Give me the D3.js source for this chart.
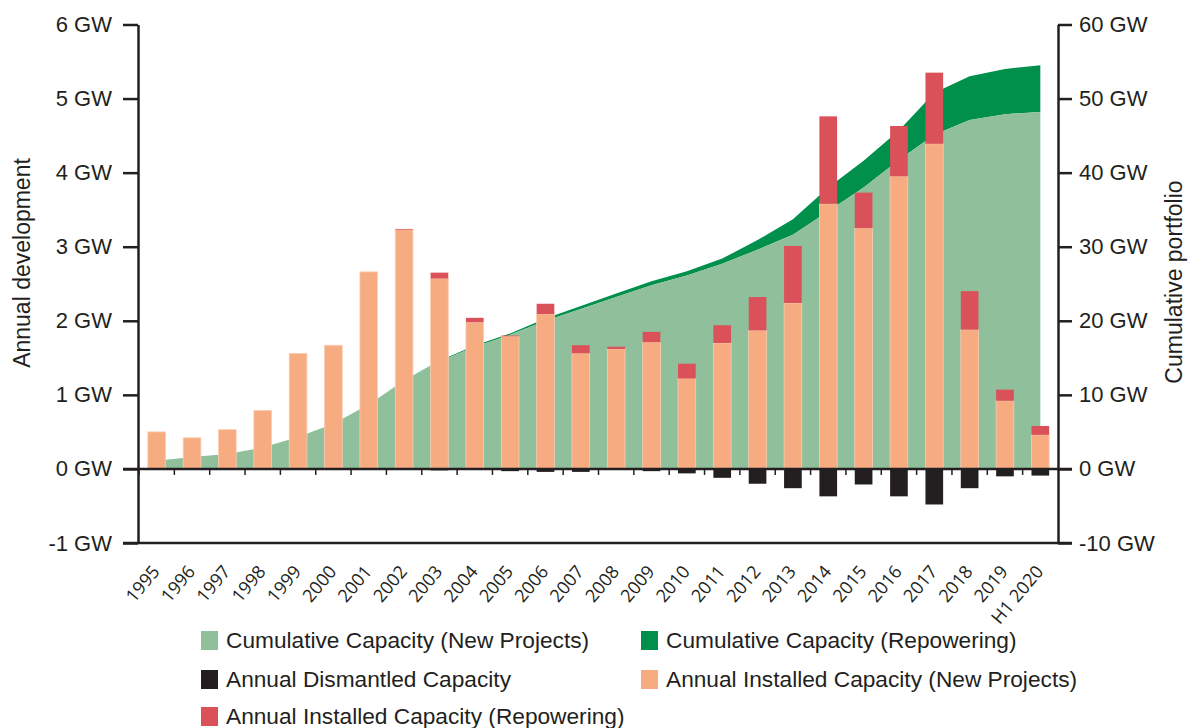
<!DOCTYPE html>
<html>
<head>
<meta charset="utf-8">
<script src="https://cdn.jsdelivr.net/npm/d3@7"></script>
<style>
  body { margin: 0; background: #fff; }
  svg { display: block; }
  .tick-label { font-family: "Liberation Sans", Arial, sans-serif; font-size: 22px; fill: #231f20; }
  .x-label { font-family: "Open Sans", sans-serif; font-size: 18px; fill: #231f20; }
  .title { font-family: "Liberation Sans", Arial, sans-serif; font-size: 23px; fill: #231f20; }
  .legend-text { font-family: "Liberation Sans", Arial, sans-serif; font-size: 22.7px; fill: #231f20; }
</style>
</head>
<body>
<svg id="chart" width="1189" height="728"></svg>
<script>
// years on the x axis
const years = ["1995","1996","1997","1998","1999","2000","2001","2002","2003","2004","2005","2006","2007",
  "2008","2009","2010","2011","2012","2013","2014","2015","2016","2017","2018","2019","H1 2020"]
// annual values, GW (left axis)
const newInstalled = [0.50,0.42,0.53,0.79,1.56,1.67,2.66,3.23,2.57,1.98,1.79,2.09,1.56,
  1.62,1.71,1.22,1.70,1.87,2.24,3.58,3.25,3.95,4.39,1.88,0.92,0.46]
const repowered = [0,0,0,0,0,0,0,0.01,0.08,0.06,0.01,0.14,0.11,
  0.03,0.14,0.20,0.24,0.45,0.77,1.18,0.48,0.68,0.96,0.52,0.15,0.12]
const dismantled = [0,0,0,0,0,0,0,0,-0.02,-0.01,-0.03,-0.04,-0.04,
  -0.01,-0.03,-0.06,-0.12,-0.20,-0.26,-0.37,-0.21,-0.37,-0.48,-0.26,-0.10,-0.09]
// cumulative values, GW (right axis)
const cumNew = [1.1,1.6,2.0,2.9,4.3,6.1,8.7,11.9,14.5,16.5,18.1,20.0,21.6,
  23.2,24.8,26.1,27.7,29.6,31.6,34.8,38.0,41.7,45.1,47.1,47.9,48.2]
const cumRepowering = [0,0,0,0,0,0,0,0.05,0.1,0.15,0.2,0.3,0.4,
  0.5,0.55,0.6,0.7,1.3,2.1,3.2,3.6,4.0,5.7,5.9,6.1,6.3]
// axis ticks
const leftTicks = [-1,0,1,2,3,4,5,6]
const rightTicks = [-10,0,10,20,30,40,50,60]

const colors = {
  cumNew: "#8fbf9b",
  cumRep: "#00904c",
  dismantled: "#231f20",
  newInst: "#f7ab80",
  repow: "#db5159"
}
const ink = "#231f20"

const svg = d3.select("#chart")
const plot = {left: 139, right: 1058, top: 24.5, bottom: 543}

const x = d3.scaleBand()
  .domain(years)
  .range([plot.left, plot.right])
  .paddingInner(0.5)
  .paddingOuter(0.25)
const yL = d3.scaleLinear().domain([-1, 6]).range([plot.bottom, plot.top])
const yR = d3.scaleLinear().domain([-10, 60]).range([plot.bottom, plot.top])
const cx = d => x(d) + x.bandwidth()/2

const rows = years.map((y, i) => ({
  year: y, newInst: newInstalled[i], repow: repowered[i], dis: dismantled[i],
  cumNew: cumNew[i], cumTot: cumNew[i] + cumRepowering[i]
}))

// cumulative areas
svg.append("path")
  .datum(rows)
  .attr("fill", colors.cumRep)
  .attr("d", d3.area().x(d => cx(d.year)).y0(d => yR(d.cumNew)).y1(d => yR(d.cumTot)))
svg.append("path")
  .datum(rows)
  .attr("fill", colors.cumNew)
  .attr("d", d3.area().x(d => cx(d.year)).y0(yR(0)).y1(d => yR(d.cumNew)))

// annual bars
const bars = svg.append("g")
bars.selectAll(".b-new").data(rows).join("rect")
  .attr("x", d => x(d.year)).attr("width", x.bandwidth())
  .attr("y", d => yL(d.newInst)).attr("height", d => yL(0) - yL(d.newInst))
  .attr("fill", colors.newInst).attr("stroke", "#fbcdb3").attr("stroke-width", 0.8)
bars.selectAll(".b-rep").data(rows.filter(d => d.repow > 0)).join("rect")
  .attr("x", d => x(d.year)).attr("width", x.bandwidth())
  .attr("y", d => yL(d.newInst + d.repow)).attr("height", d => yL(d.newInst) - yL(d.newInst + d.repow))
  .attr("fill", colors.repow)
bars.selectAll(".b-dis").data(rows.filter(d => d.dis < 0)).join("rect")
  .attr("x", d => x(d.year)).attr("width", x.bandwidth())
  .attr("y", yL(0)).attr("height", d => yL(d.dis) - yL(0))
  .attr("fill", colors.dismantled)

// zero line and bottom line
svg.append("line").attr("x1", 123).attr("x2", 1072).attr("y1", yL(0)).attr("y2", yL(0))
  .attr("stroke", ink).attr("stroke-width", 2.5)
svg.append("line").attr("x1", 123).attr("x2", 1072).attr("y1", yL(-1)).attr("y2", yL(-1))
  .attr("stroke", ink).attr("stroke-width", 2.5)

// small ticks on the zero line between the bands
svg.append("g").selectAll("line").data(years).join("line")
  .attr("x1", d => cx(d) - x.step()/2).attr("x2", d => cx(d) - x.step()/2)
  .attr("y1", yL(0)).attr("y2", yL(0) + 6)
  .attr("stroke", ink).attr("stroke-width", 1.5)

// left axis
const gL = svg.append("g").attr("transform", `translate(${plot.left - 1},0)`)
  .call(d3.axisLeft(yL).tickValues(leftTicks).tickFormat(d => d + " GW").tickSize(15).tickSizeOuter(0).tickPadding(11))
// right axis
const gR = svg.append("g").attr("transform", `translate(${plot.right},0)`)
  .call(d3.axisRight(yR).tickValues(rightTicks).tickFormat(d => d + " GW").tickSize(14).tickSizeOuter(0).tickPadding(7))
for (const g of [gL, gR]) {
  g.attr("font-family", null).attr("font-size", null)
  g.select(".domain").attr("stroke", ink).attr("stroke-width", 2.5)
  g.selectAll(".tick line").attr("stroke", ink).attr("stroke-width", 2.5)
  g.selectAll(".tick text").attr("class", "tick-label")
}

// x labels
const gX = svg.append("g").attr("transform", `translate(0,${plot.bottom})`)
  .call(d3.axisBottom(x).tickSize(0).tickPadding(0))
gX.attr("font-family", null).attr("font-size", null)
gX.select(".domain").remove()
gX.selectAll(".tick text")
  .attr("class", "x-label")
  .attr("y", 0).attr("dy", 0)
  .attr("text-anchor", "end")
  .attr("transform", "translate(4,29) rotate(-50)")

// axis titles
svg.append("text").attr("class", "title")
  .attr("transform", "translate(30,263) rotate(-90)")
  .attr("text-anchor", "middle")
  .text("Annual development")
svg.append("text").attr("class", "title")
  .attr("transform", "translate(1182,282) rotate(-90)")
  .attr("text-anchor", "middle")
  .text("Cumulative portfolio")

// legend
const legendItems = [
  {label: "Cumulative Capacity (New Projects)", color: colors.cumNew, col: 0, row: 0},
  {label: "Cumulative Capacity (Repowering)", color: colors.cumRep, col: 1, row: 0},
  {label: "Annual Dismantled Capacity", color: colors.dismantled, col: 0, row: 1},
  {label: "Annual Installed Capacity (New Projects)", color: colors.newInst, col: 1, row: 1},
  {label: "Annual Installed Capacity (Repowering)", color: colors.repow, col: 0, row: 2}
]
const colX = [201, 641]
const rowY = [640, 679, 716]
const lg = svg.append("g").selectAll("g").data(legendItems).join("g")
  .attr("transform", d => `translate(${colX[d.col]},${rowY[d.row]})`)
lg.append("rect").attr("x", 0).attr("y", -9).attr("width", 17).attr("height", 19).attr("fill", d => d.color)
lg.append("text").attr("class", "legend-text").attr("x", 25).attr("dy", "0.36em").text(d => d.label)
</script>
</body>
</html>
